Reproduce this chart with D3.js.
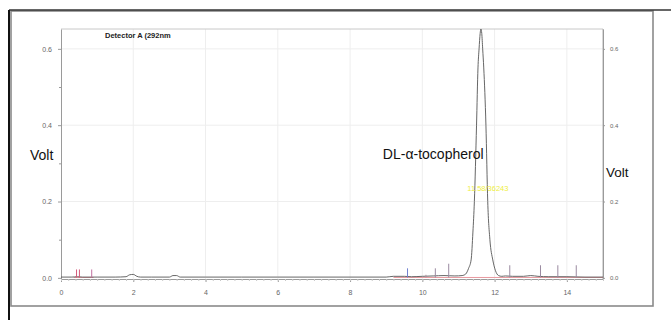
<!DOCTYPE html>
<html><head><meta charset="utf-8">
<script src="https://cdn.jsdelivr.net/npm/d3@7"></script>
<style>html,body{margin:0;padding:0;background:#fff;}svg{display:block;font-family:"Liberation Sans",Arial,sans-serif;}</style>
</head><body>
<svg id="c" width="671" height="320"></svg>
<script>
// ---- data ----
const traceTime = [0,0.3,0.45,0.6,1.0,1.5,1.8,1.9,2.0,2.1,2.2,2.5,3.0,3.1,3.2,3.3,4,5,6,7,8,9.0,9.2,9.5,9.7,10.0,10.3,10.6,10.9,11.1,11.2,11.28,11.35,11.40,11.44,11.50,11.54,11.57,11.60,11.62,11.645,11.67,11.70,11.76,11.81,11.87,11.95,12.02,12.11,12.2,12.3,12.5,12.8,13.0,13.2,13.5,14,14.5,15];
const traceVolt = [0.002,0.002,0.003,0.002,0.002,0.002,0.003,0.008,0.009,0.004,0.002,0.002,0.002,0.006,0.006,0.002,0.002,0.002,0.002,0.002,0.002,0.002,0.004,0.004,0.003,0.004,0.005,0.006,0.005,0.006,0.010,0.025,0.047,0.12,0.20,0.40,0.55,0.60,0.64,0.652,0.64,0.60,0.55,0.40,0.20,0.10,0.047,0.020,0.006,0.004,0.005,0.004,0.004,0.006,0.004,0.003,0.003,0.002,0.002];
const markTime = [0.43,0.51,0.85,9.59,10.1,10.36,10.73,12.42,13.27,13.75,14.26];
const markHeight = [0.022,0.022,0.022,0.025,0.008,0.025,0.037,0.033,0.033,0.033,0.033];
const markColor = ["#d45a7a","#d45a7a","#c070a0","#7080d0","#b090a0","#9a8aa0","#9a8aa0","#9a8aa0","#9a8aa0","#9a8aa0","#9a8aa0"];
const baseSegStart = [0.35,9.2];
const baseSegEnd = [0.9,15];
const xTicks = [0,2,4,6,8,10,12,14];
const yTicks = [0.0,0.2,0.4,0.6];
const peakName = "DL-\u03b1-tocopherol";
const peakInfo = "11.58/36243";
const detector = "Detector A (292nm";

// ---- layout ----
const svg = d3.select("#c");
const L = 61, R = 603, T = 29, B = 279;
const x = d3.scaleLinear().domain([0,15]).range([L,R]);
const y = d3.scaleLinear().domain([-0.003,0.652]).range([B,T]);

// frame
svg.append("rect").attr("x",11).attr("y",11).attr("width",642).attr("height",295)
  .attr("fill","none").attr("stroke","#8a8a8a").attr("stroke-width",1.6);
svg.append("line").attr("x1",9).attr("x2",671).attr("y1",10).attr("y2",10).attr("stroke","#333").attr("stroke-width",1.5);
svg.append("line").attr("x1",9).attr("x2",9).attr("y1",10).attr("y2",320).attr("stroke","#111").attr("stroke-width",2);

// gridlines
const g = svg.append("g");
g.selectAll(".vg").data(xTicks.slice(1)).join("line")
  .attr("x1",d=>x(d)).attr("x2",d=>x(d)).attr("y1",T).attr("y2",B)
  .attr("stroke","#eeeeee").attr("stroke-width",1);
g.selectAll(".hg").data(yTicks.slice(1)).join("line")
  .attr("x1",L).attr("x2",R).attr("y1",d=>y(d)).attr("y2",d=>y(d))
  .attr("stroke","#eeeeee").attr("stroke-width",1);

// plot border lines
svg.append("line").attr("x1",L).attr("x2",R).attr("y1",T).attr("y2",T).attr("stroke","#c8c8c8");
svg.append("line").attr("x1",R).attr("x2",R).attr("y1",T).attr("y2",B).attr("stroke","#b0b0b0");

// axes
const axStyle = sel => {
  sel.selectAll("path").attr("stroke","#9a9a9a");
  sel.selectAll("line").attr("stroke","#9a9a9a");
  sel.selectAll("text").attr("fill","#666").attr("font-size","7px").attr("font-family","Liberation Sans, Arial");
};
const yLeft = svg.append("g").attr("transform",`translate(${L},0)`)
  .call(d3.axisLeft(y).tickValues(yTicks).tickFormat(d3.format(".1f")).tickSize(3).tickPadding(6).tickSizeOuter(0));
axStyle(yLeft);
const yMinor = svg.append("g").attr("transform",`translate(${L},0)`)
  .call(d3.axisLeft(y).tickValues([0.1,0.3,0.5]).tickFormat("").tickSize(2).tickSizeOuter(0));
axStyle(yMinor); yMinor.select("path").remove();
const yRight = svg.append("g").attr("transform",`translate(${R},0)`)
  .call(d3.axisRight(y).tickValues(yTicks).tickFormat(d3.format(".1f")).tickSize(2).tickPadding(5).tickSizeOuter(0));
axStyle(yRight); yRight.selectAll("text").attr("font-size","6px");
const xAx = svg.append("g").attr("transform",`translate(0,${B})`)
  .call(d3.axisBottom(x).tickValues(xTicks).tickFormat(d3.format("d")).tickSize(3).tickPadding(8).tickSizeOuter(0));
axStyle(xAx);
const xMinor = svg.append("g").attr("transform",`translate(0,${B})`)
  .call(d3.axisBottom(x).ticks(60).tickFormat("").tickSize(2).tickSizeOuter(0));
axStyle(xMinor); xMinor.select("path").remove(); xMinor.selectAll("line").attr("stroke","#c8c8c8");

// baseline segments (integration)
svg.selectAll(".bs").data(baseSegStart).join("line")
  .attr("x1",d=>x(d)).attr("x2",(d,i)=>x(baseSegEnd[i]))
  .attr("y1",y(0.001)).attr("y2",y(0.001))
  .attr("stroke","#e89aa0").attr("stroke-width",1);

// trace
const pts = traceTime.map((t,i)=>[t,traceVolt[i]]);
svg.append("path").datum(pts)
  .attr("d",d3.line().x(d=>x(d[0])).y(d=>y(d[1])).curve(d3.curveMonotoneX))
  .attr("fill","none").attr("stroke","#555").attr("stroke-width",0.9);

// event markers
svg.selectAll(".mk").data(markTime).join("line")
  .attr("x1",d=>x(d)).attr("x2",d=>x(d))
  .attr("y1",y(0.001)).attr("y2",(d,i)=>y(markHeight[i]))
  .attr("stroke",(d,i)=>markColor[i]).attr("stroke-width",1);

// texts
svg.append("text").attr("x",105).attr("y",38).attr("font-size","7.5px").attr("font-weight","bold").attr("fill","#222").text(detector);
svg.append("text").attr("x",30).attr("y",160).attr("font-size","14px").attr("fill","#111").text("Volt");
svg.append("text").attr("x",606).attr("y",177).attr("font-size","13.5px").attr("fill","#111").text("Volt");
svg.append("text").attr("x",x(11.62)-98).attr("y",159).attr("font-size","14px").attr("fill","#111").text(peakName);
svg.append("text").attr("x",x(11.62)+7).attr("y",y(0.228)).attr("text-anchor","middle").attr("font-size","7.5px").attr("fill","#eeee40").text(peakInfo);
</script>
</body></html>
